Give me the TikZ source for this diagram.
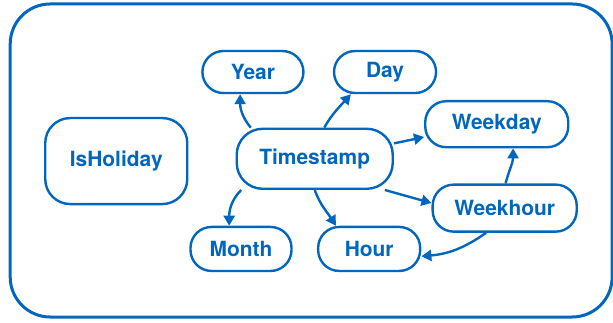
\documentclass[tikz,border=0pt]{standalone}
\usepackage{fontspec}
\setmainfont{TeX Gyre Heros}
\usepackage{tikz}
\usetikzlibrary{arrows.meta}

\definecolor{tblue}{RGB}{0,102,190}

\begin{document}
\begin{tikzpicture}[
  box/.style={draw=tblue, line width=1.2bp, rounded corners=10.5bp, inner sep=0pt,
    text=tblue, font=\bfseries\fontsize{10.5}{12}\selectfont},
  link/.style={draw=tblue, line width=1.2bp, -{Triangle[length=5bp,width=5.5bp]}}]
\clip (0,0) rectangle (10.81,-5.68);
\draw[tblue, line width=1.5bp, rounded corners=20bp] (0.18,-0.07) rectangle (10.795,-5.59);
\node[box, minimum width=71bp, minimum height=43bp, rounded corners=12.5bp] (hol) at (2.05,-2.84) {IsHoliday};
\node[box, minimum width=78bp, minimum height=30bp, rounded corners=13bp] (ts) at (5.55,-2.80) {Timestamp};
\node[box, minimum width=50.5bp, minimum height=21bp] (year) at (4.46,-1.27) {Year};
\node[box, minimum width=51bp, minimum height=21bp] (day) at (6.79,-1.27) {Day};
\node[box, minimum width=71.5bp, minimum height=23bp] (wday) at (8.76,-2.19) {Weekday};
\node[box, minimum width=72bp, minimum height=23.5bp] (whour) at (8.90,-3.67) {Weekhour};
\node[box, minimum width=50.5bp, minimum height=22bp] (month) at (4.25,-4.39) {Month};
\node[box, minimum width=51bp, minimum height=22bp] (hour) at (6.51,-4.39) {Hour};
\draw[link] (ts.154) to[out=130, in=-90] (year.240);
\draw[link] (ts.73) to[out=60, in=228] (day.213);
\draw[link] (ts.11) -- (wday.190);
\draw[link] (ts.-24) -- (whour.176);
\draw[link] (ts.-90) to[out=-70, in=123] (hour.145);
\draw[link] (ts.203) to[out=225, in=90] (month.117);
\draw[link] (whour.88) to[out=75, in=-90] (wday.-56);
\draw[link] (whour.-127) to[out=215, in=5] (hour.-8);
\end{tikzpicture}
\end{document}
